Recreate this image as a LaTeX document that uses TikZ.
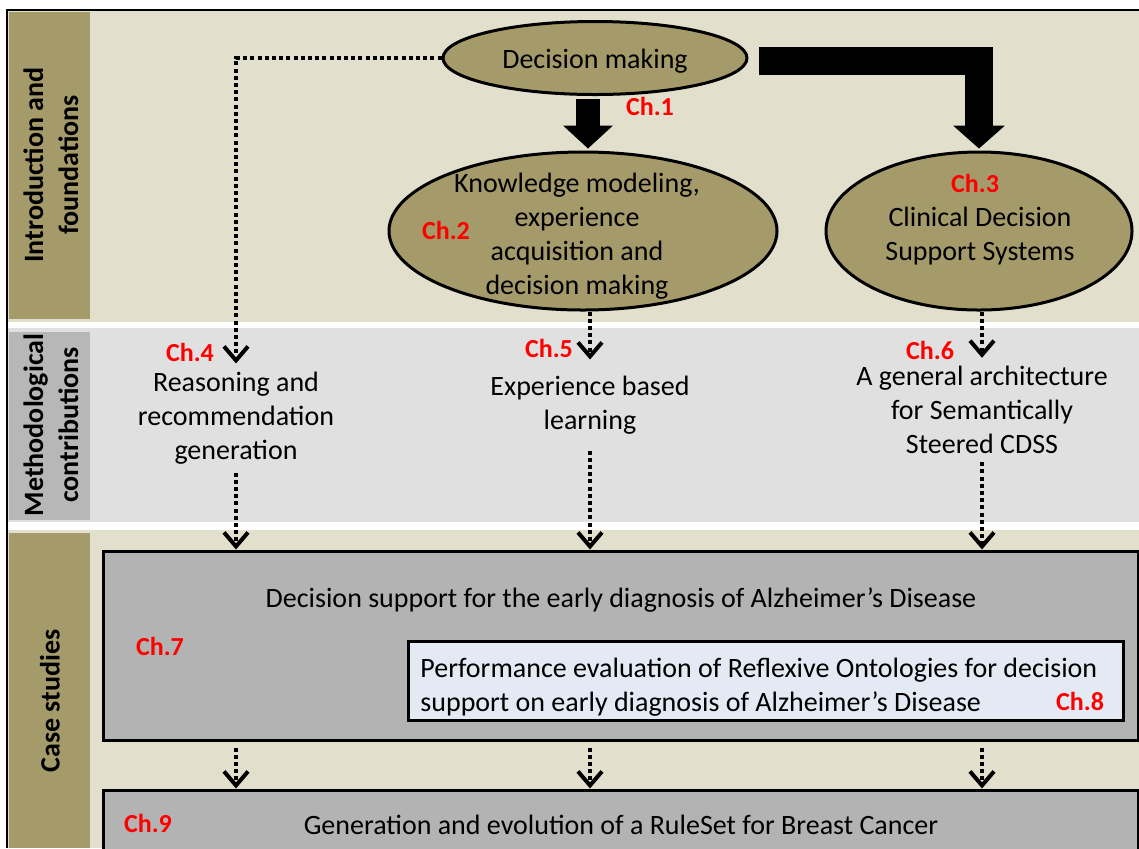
\documentclass[tikz,border=0pt]{standalone}
\usepackage{fontspec}
\setmainfont{Carlito}
\usepackage{tikz}
\usetikzlibrary{arrows.meta}
\usetikzlibrary{shapes.geometric}

\definecolor{bandtan}{HTML}{E2DFCD}
\definecolor{olive}{HTML}{A59B6A}
\definecolor{bandgrey}{HTML}{E0E0E0}
\definecolor{stripgrey}{HTML}{B7B7B7}
\definecolor{boxgrey}{HTML}{B3B3B3}
\definecolor{paleblue}{HTML}{E3EAF4}

\begin{document}
\begin{tikzpicture}[x=0.5pt, y=-0.5pt,
        every node/.style={font=\fontsize{14}{17}\selectfont, inner sep=0pt},
        ell/.style={draw, ellipse, fill=olive, line width=1.5pt},
        chap/.style={text=red, font=\bfseries\fontsize{13}{15}\selectfont},
        lane/.style={rotate=90, align=center, font=\bfseries\fontsize{14}{17.5}\selectfont},
        mtext/.style={align=center, inner xsep=0pt, inner ysep=4pt},
        csbox/.style={draw, fill=boxgrey, line width=1.5pt, minimum width=517.5pt},
        dotarrow/.style={line width=2pt, dash pattern=on 2pt off 1.6pt, -{Straight Barb[length=7pt,width=12pt]}},
        bigarrow/.style={line width=12pt, -{Triangle[length=11.5pt,width=25pt,line width=0pt]}}]
        \useasboundingbox (0,0) rectangle (1139,848);
        \clip (0,0) rectangle (1139,848);
        % lanes
        \fill[bandtan] (8,11) rectangle (1139,322);
        \fill[bandgrey] (8,328) rectangle (1139,522);
        \fill[bandtan] (8,530) rectangle (1139,848);
        \fill[olive] (9,12) rectangle (90,319);
        \fill[stripgrey] (9,332) rectangle (90,520);
        \fill[olive] (9,533) rectangle (90,848);
        \draw[line width=0.6pt] (1139,10) -- (7,10) -- (7,848);
        \node[lane] at (51,165) (intro){Introduction and\\foundations};
        \node[lane] at (51,425) (meth){Methodological\\contributions};
        \node[lane] at (50,701) (cases){Case studies};

        % foundations
        \node[ell, minimum width=152pt, minimum height=36.5pt] at (595,58) (dm){};
        \node at (595,61) (dmtext){Decision making};
        \node[ell, minimum width=194pt, minimum height=79pt] at (583,231) (km){};
        \node[align=center] at (577,236) (kmtext){Knowledge modeling,\\experience\\acquisition and\\decision making};
        \node[ell, minimum width=153pt, minimum height=79pt] at (979,231) (cdss){};
        \node[align=center] at (980,236) (cdsstext){Clinical Decision\\Support Systems};

        % methodological contributions
        \node[mtext] at (236,418) (reason){Reasoning and\\recommendation\\generation};
        \node[mtext, inner ysep=8pt] at (590,405) (learn){Experience based\\learning};
        \node[mtext] at (982,410) (arch){A general architecture\\for Semantically\\Steered CDSS};

        % case studies
        \node[csbox, minimum height=94.5pt] at (620.5,645.5) (alz){};
        \node at (621,600) (alztext){Decision support for the early diagnosis of Alzheimer’s Disease};
        \node[draw, fill=paleblue, line width=1.5pt, minimum width=357.5pt, minimum height=39.5pt] at (765.5,680.5) (onto){};
        \node[anchor=west, align=left] at (420,687) (ontotext){Performance evaluation of Reflexive Ontologies for decision\\support on early diagnosis of Alzheimer’s Disease};
        \node[csbox, minimum height=60pt] at (620.5,850) (breast){};
        \node at (621,825) (breasttext){Generation and evolution of a RuleSet for Breast Cancer};

        % chapters
        \node[chap] at (650,106) (c1){Ch.1};
        \node[chap] at (446,230) (c2){Ch.2};
        \node[chap] at (975,183) (c3){Ch.3};
        \node[chap] at (190,352) (c4){Ch.4};
        \node[chap] at (549,348) (c5){Ch.5};
        \node[chap] at (930,350) (c6){Ch.6};
        \node[chap] at (160,646) (c7){Ch.7};
        \node[chap] at (1080,701) (c8){Ch.8};
        \node[chap] at (148,823) (c9){Ch.9};

        % arrows
        \draw[bigarrow] ([xshift=-3.5pt,yshift=-1.5pt]dm.south) -- ([xshift=2.5pt,yshift=1pt]km.north);
        \draw[bigarrow, line width=14pt, -{Triangle[length=11.5pt,width=26pt,line width=0pt]}] ([xshift=5pt,yshift=-1.5pt]dm.east) -| ([yshift=1pt]cdss.north);
        \draw[dotarrow] (dm.west) -| (reason.north);
        \draw[dotarrow] (km.south -| learn.north) -- (learn.north);
        \draw[dotarrow] (cdss.south -| arch.north) -- (arch.north);
        \draw[dotarrow] (reason.south) -- (reason.south |- alz.north);
        \draw[dotarrow] (learn.south) -- (learn.south |- alz.north);
        \draw[dotarrow] (arch.south) -- (arch.south |- alz.north);
        \draw[dotarrow, shorten <=3pt] (reason.south |- alz.south) -- (reason.south |- breast.north);
        \draw[dotarrow, shorten <=3pt] (learn.south |- alz.south) -- (learn.south |- breast.north);
        \draw[dotarrow, shorten <=3pt] (arch.south |- alz.south) -- (arch.south |- breast.north);
\end{tikzpicture}
\end{document}
